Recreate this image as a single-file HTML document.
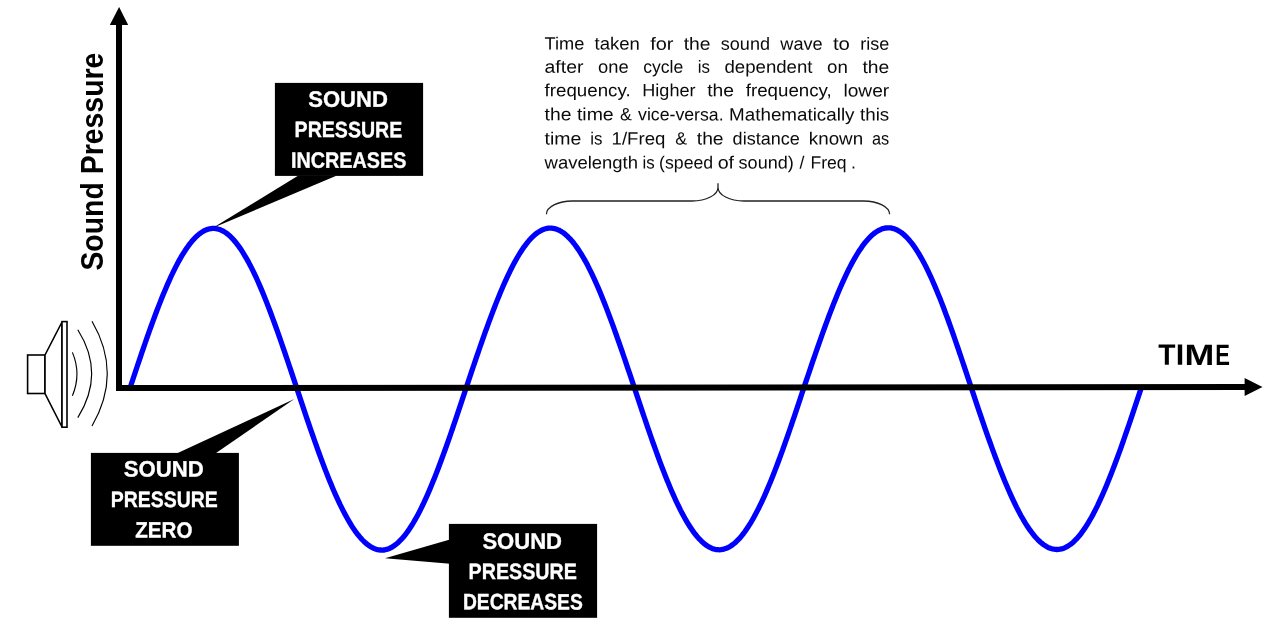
<!DOCTYPE html>
<html lang="en"><head><meta charset="utf-8"><title>Sound wave - pressure vs time</title>
<style>
html,body{margin:0;padding:0;background:#fff;}
body{width:1268px;height:623px;overflow:hidden;}
svg{display:block;}
text{font-family:"Liberation Sans",sans-serif;}
.b{font-weight:bold;}
.w{fill:#fff;font-weight:bold;font-size:22.2px;stroke:#fff;stroke-width:0.35px;}
.p{fill:#0a0a0a;font-size:17.7px;}
</style></head><body>
<svg width="1268" height="623" viewBox="0 0 1268 623">
<rect width="1268" height="623" fill="#fff"/>

<polyline points="130.0,388.0 131.5,383.5 133.0,379.0 134.5,374.5 136.0,370.0 137.5,365.5 139.0,361.1 140.5,356.6 142.0,352.2 143.5,347.9 145.0,343.5 146.5,339.2 148.0,334.9 149.5,330.7 151.0,326.5 152.5,322.4 154.0,318.3 155.5,314.3 157.0,310.3 158.5,306.4 160.0,302.6 161.5,298.8 163.0,295.1 164.5,291.5 166.0,287.9 167.5,284.4 169.0,281.1 170.5,277.7 172.0,274.5 173.5,271.4 175.0,268.4 176.5,265.4 178.0,262.6 179.5,259.9 181.0,257.2 182.5,254.7 184.0,252.3 185.5,250.0 187.0,247.8 188.5,245.7 190.0,243.7 191.5,241.8 193.0,240.1 194.5,238.4 196.0,236.9 197.5,235.5 199.0,234.3 200.5,233.1 202.0,232.1 203.5,231.2 205.0,230.4 206.5,229.8 208.0,229.2 209.5,228.8 211.0,228.6 212.5,228.4 214.0,228.4 215.5,228.5 217.0,228.8 218.5,229.2 220.0,229.6 221.5,230.3 223.0,231.0 224.5,231.9 226.0,232.9 227.5,234.0 229.0,235.3 230.5,236.6 232.0,238.1 233.5,239.7 235.0,241.5 236.5,243.3 238.0,245.3 239.5,247.4 241.0,249.6 242.5,251.9 244.0,254.3 245.5,256.8 247.0,259.4 248.5,262.1 250.0,265.0 251.5,267.9 253.0,270.9 254.5,274.0 256.0,277.2 257.5,280.5 259.0,283.9 260.5,287.4 262.0,290.9 263.5,294.6 265.0,298.3 266.5,302.0 268.0,305.9 269.5,309.8 271.0,313.7 272.5,317.8 274.0,321.9 275.5,326.0 277.0,330.2 278.5,334.4 280.0,338.7 281.5,343.0 283.0,347.3 284.5,351.7 286.0,356.1 287.5,360.5 289.0,365.0 290.5,369.4 292.0,373.9 293.5,378.3 295.0,382.8 296.5,387.3 298.0,391.8 299.5,396.3 301.0,400.9 302.5,405.4 304.0,409.9 305.5,414.3 307.0,418.8 308.5,423.2 310.0,427.6 311.5,431.9 313.0,436.2 314.5,440.5 316.0,444.7 317.5,448.9 319.0,453.0 320.5,457.1 322.0,461.2 323.5,465.1 325.0,469.1 326.5,472.9 328.0,476.7 329.5,480.4 331.0,484.1 332.5,487.7 334.0,491.2 335.5,494.6 337.0,497.9 338.5,501.2 340.0,504.4 341.5,507.4 343.0,510.4 344.5,513.3 346.0,516.1 347.5,518.8 349.0,521.4 350.5,523.9 352.0,526.3 353.5,528.6 355.0,530.8 356.5,532.8 358.0,534.8 359.5,536.6 361.0,538.4 362.5,540.0 364.0,541.5 365.5,542.9 367.0,544.1 368.5,545.3 370.0,546.3 371.5,547.2 373.0,548.0 374.5,548.6 376.0,549.2 377.5,549.6 379.0,549.9 380.5,550.0 382.0,550.1 383.5,550.0 385.0,549.8 386.5,549.4 388.0,548.9 389.5,548.4 391.0,547.6 392.5,546.8 394.0,545.8 395.5,544.7 397.0,543.5 398.5,542.2 400.0,540.7 401.5,539.2 403.0,537.5 404.5,535.7 406.0,533.8 407.5,531.7 409.0,529.6 410.5,527.3 412.0,525.0 413.5,522.5 415.0,519.9 416.5,517.2 418.0,514.5 419.5,511.6 421.0,508.6 422.5,505.5 424.0,502.4 425.5,499.1 427.0,495.8 428.5,492.4 430.0,488.9 431.5,485.3 433.0,481.6 434.5,477.9 436.0,474.1 437.5,470.3 439.0,466.3 440.5,462.3 442.0,458.3 443.5,454.2 445.0,450.0 446.5,445.8 448.0,441.6 449.5,437.3 451.0,433.0 452.5,428.6 454.0,424.2 455.5,419.8 457.0,415.3 458.5,410.8 460.0,406.3 461.5,401.8 463.0,397.3 464.5,392.8 466.0,388.2 467.5,383.8 469.0,379.3 470.5,374.9 472.0,370.4 473.5,366.0 475.0,361.6 476.5,357.2 478.0,352.8 479.5,348.5 481.0,344.1 482.5,339.9 484.0,335.6 485.5,331.4 487.0,327.3 488.5,323.1 490.0,319.1 491.5,315.1 493.0,311.1 494.5,307.2 496.0,303.4 497.5,299.6 499.0,295.9 500.5,292.3 502.0,288.8 503.5,285.3 505.0,281.9 506.5,278.6 508.0,275.4 509.5,272.3 511.0,269.2 512.5,266.3 514.0,263.4 515.5,260.7 517.0,258.0 518.5,255.5 520.0,253.0 521.5,250.7 523.0,248.4 524.5,246.3 526.0,244.3 527.5,242.4 529.0,240.6 530.5,238.9 532.0,237.4 533.5,235.9 535.0,234.6 536.5,233.4 538.0,232.3 539.5,231.4 541.0,230.5 542.5,229.8 544.0,229.2 545.5,228.8 547.0,228.4 548.5,228.2 550.0,228.1 551.5,228.2 553.0,228.3 554.5,228.6 556.0,229.0 557.5,229.6 559.0,230.2 560.5,231.0 562.0,231.9 563.5,232.9 565.0,234.1 566.5,235.4 568.0,236.8 569.5,238.3 571.0,239.9 572.5,241.6 574.0,243.5 575.5,245.5 577.0,247.6 578.5,249.8 580.0,252.1 581.5,254.5 583.0,257.0 584.5,259.6 586.0,262.3 587.5,265.1 589.0,268.1 590.5,271.1 592.0,274.2 593.5,277.4 595.0,280.6 596.5,284.0 598.0,287.4 599.5,290.9 601.0,294.5 602.5,298.2 604.0,302.0 605.5,305.8 607.0,309.6 608.5,313.6 610.0,317.6 611.5,321.6 613.0,325.7 614.5,329.8 616.0,334.0 617.5,338.3 619.0,342.5 620.5,346.8 622.0,351.2 623.5,355.5 625.0,359.9 626.5,364.3 628.0,368.8 629.5,373.2 631.0,377.6 632.5,382.1 634.0,386.5 635.5,391.1 637.0,395.6 638.5,400.1 640.0,404.6 641.5,409.1 643.0,413.6 644.5,418.0 646.0,422.4 647.5,426.8 649.0,431.2 650.5,435.5 652.0,439.8 653.5,444.0 655.0,448.2 656.5,452.4 658.0,456.5 659.5,460.6 661.0,464.6 662.5,468.5 664.0,472.4 665.5,476.2 667.0,479.9 668.5,483.6 670.0,487.2 671.5,490.7 673.0,494.1 674.5,497.5 676.0,500.8 677.5,504.0 679.0,507.0 680.5,510.1 682.0,513.0 683.5,515.8 685.0,518.5 686.5,521.1 688.0,523.6 689.5,526.0 691.0,528.3 692.5,530.5 694.0,532.6 695.5,534.5 697.0,536.4 698.5,538.1 700.0,539.7 701.5,541.2 703.0,542.6 704.5,543.9 706.0,545.0 707.5,546.0 709.0,546.9 710.5,547.7 712.0,548.4 713.5,548.9 715.0,549.3 716.5,549.6 718.0,549.7 719.5,549.8 721.0,549.7 722.5,549.4 724.0,549.1 725.5,548.6 727.0,548.0 728.5,547.3 730.0,546.5 731.5,545.5 733.0,544.4 734.5,543.2 736.0,541.9 737.5,540.4 739.0,538.9 740.5,537.2 742.0,535.4 743.5,533.5 745.0,531.5 746.5,529.3 748.0,527.1 749.5,524.7 751.0,522.3 752.5,519.7 754.0,517.1 755.5,514.3 757.0,511.4 758.5,508.5 760.0,505.4 761.5,502.3 763.0,499.1 764.5,495.8 766.0,492.4 767.5,488.9 769.0,485.3 770.5,481.7 772.0,478.0 773.5,474.2 775.0,470.4 776.5,466.5 778.0,462.5 779.5,458.5 781.0,454.4 782.5,450.3 784.0,446.1 785.5,441.9 787.0,437.6 788.5,433.3 790.0,429.0 791.5,424.6 793.0,420.2 794.5,415.8 796.0,411.3 797.5,406.8 799.0,402.4 800.5,397.9 802.0,393.3 803.5,388.8 805.0,384.4 806.5,379.9 808.0,375.5 809.5,371.1 811.0,366.6 812.5,362.2 814.0,357.9 815.5,353.5 817.0,349.2 818.5,344.9 820.0,340.6 821.5,336.3 823.0,332.1 824.5,328.0 826.0,323.9 827.5,319.8 829.0,315.8 830.5,311.9 832.0,308.0 833.5,304.1 835.0,300.4 836.5,296.7 838.0,293.0 839.5,289.5 841.0,286.0 842.5,282.6 844.0,279.3 845.5,276.1 847.0,272.9 848.5,269.8 850.0,266.9 851.5,264.0 853.0,261.2 854.5,258.6 856.0,256.0 857.5,253.5 859.0,251.1 860.5,248.9 862.0,246.7 863.5,244.7 865.0,242.7 866.5,240.9 868.0,239.2 869.5,237.6 871.0,236.1 872.5,234.8 874.0,233.5 875.5,232.4 877.0,231.4 878.5,230.5 880.0,229.8 881.5,229.1 883.0,228.6 884.5,228.2 886.0,228.0 887.5,227.8 889.0,227.8 890.5,227.9 892.0,228.2 893.5,228.6 895.0,229.1 896.5,229.7 898.0,230.5 899.5,231.4 901.0,232.4 902.5,233.5 904.0,234.8 905.5,236.2 907.0,237.7 908.5,239.3 910.0,241.1 911.5,242.9 913.0,244.9 914.5,247.0 916.0,249.3 917.5,251.6 919.0,254.0 920.5,256.6 922.0,259.3 923.5,262.0 925.0,264.9 926.5,267.8 928.0,270.9 929.5,274.1 931.0,277.3 932.5,280.7 934.0,284.1 935.5,287.6 937.0,291.2 938.5,294.9 940.0,298.6 941.5,302.4 943.0,306.3 944.5,310.2 946.0,314.3 947.5,318.3 949.0,322.5 950.5,326.6 952.0,330.9 953.5,335.2 955.0,339.5 956.5,343.8 958.0,348.2 959.5,352.6 961.0,357.0 962.5,361.5 964.0,365.9 965.5,370.4 967.0,374.9 968.5,379.3 970.0,383.8 971.5,388.3 973.0,392.8 974.5,397.3 976.0,401.8 977.5,406.3 979.0,410.8 980.5,415.2 982.0,419.6 983.5,423.9 985.0,428.3 986.5,432.6 988.0,436.8 989.5,441.0 991.0,445.2 992.5,449.3 994.0,453.4 995.5,457.5 997.0,461.4 998.5,465.4 1000.0,469.2 1001.5,473.0 1003.0,476.8 1004.5,480.4 1006.0,484.0 1007.5,487.6 1009.0,491.0 1010.5,494.4 1012.0,497.7 1013.5,500.9 1015.0,504.0 1016.5,507.1 1018.0,510.0 1019.5,512.9 1021.0,515.7 1022.5,518.3 1024.0,520.9 1025.5,523.4 1027.0,525.7 1028.5,528.0 1030.0,530.2 1031.5,532.2 1033.0,534.1 1034.5,536.0 1036.0,537.7 1037.5,539.3 1039.0,540.8 1040.5,542.2 1042.0,543.4 1043.5,544.6 1045.0,545.6 1046.5,546.5 1048.0,547.3 1049.5,548.0 1051.0,548.5 1052.5,548.9 1054.0,549.2 1055.5,549.4 1057.0,549.5 1058.5,549.4 1060.0,549.2 1061.5,548.9 1063.0,548.4 1064.5,547.9 1066.0,547.2 1067.5,546.4 1069.0,545.4 1070.5,544.4 1072.0,543.2 1073.5,541.9 1075.0,540.4 1076.5,538.9 1078.0,537.2 1079.5,535.5 1081.0,533.6 1082.5,531.5 1084.0,529.4 1085.5,527.2 1087.0,524.8 1088.5,522.4 1090.0,519.8 1091.5,517.2 1093.0,514.4 1094.5,511.6 1096.0,508.6 1097.5,505.6 1099.0,502.4 1100.5,499.2 1102.0,495.9 1103.5,492.5 1105.0,489.0 1106.5,485.4 1108.0,481.8 1109.5,478.1 1111.0,474.3 1112.5,470.4 1114.0,466.5 1115.5,462.5 1117.0,458.5 1118.5,454.4 1120.0,450.3 1121.5,446.1 1123.0,441.8 1124.5,437.5 1126.0,433.2 1127.5,428.9 1129.0,424.5 1130.5,420.1 1132.0,415.6 1133.5,411.1 1135.0,406.7 1136.5,402.2 1138.0,397.6 1139.5,393.1 1141.0,388.6" fill="none" stroke="#0000ff" stroke-width="5.3" stroke-linejoin="round" stroke-linecap="butt"/>

<g fill="#000" stroke="none">
<polygon points="116,24 122,24 122,391 116,391"/>
<polygon points="119.1,7 109.8,25 128.2,25"/>
<polygon points="116,385 1245,384 1245,390 116,391"/>
<polygon points="1262.5,387.1 1244.6,378 1244.6,396"/>
</g>

<g fill="none" stroke="#000" stroke-width="1.6" stroke-linejoin="miter">
<rect x="27.6" y="355" width="17.4" height="38.5" fill="#fff"/>
<polygon points="45,355 62,322 62,427 45,393.5" fill="#fff"/>
<rect x="62" y="321.6" width="5" height="105.6" fill="#fff"/>
</g>
<g fill="none" stroke="#000" stroke-width="1.15">
<path d="M72.4,352.4 Q81.5,374 72.4,395.8"/>
<path d="M77.8,329.8 Q105.5,373.7 77.8,417.6"/>
<path d="M92,321.3 Q122.5,373.6 92,426"/>
</g>

<g><rect x="274.9" y="82.9" width="148.2" height="93.0" fill="#000"/>
<polygon points="298.4,175.5 336.9,175.5 212.6,228.1" fill="#000"/>
<text class="w" transform="rotate(0.05 309 107)" x="308.2" y="106.7" textLength="79.7" lengthAdjust="spacingAndGlyphs">SOUND</text>
<text class="w" transform="rotate(0.05 295 137)" x="294.6" y="137.1" textLength="107.7" lengthAdjust="spacingAndGlyphs">PRESSURE</text>
<text class="w" transform="rotate(0.05 292 168)" x="291.0" y="167.7" textLength="115.4" lengthAdjust="spacingAndGlyphs">INCREASES</text>
</g>

<g><rect x="90.9" y="452.9" width="148.0" height="92.9" fill="#000"/>
<polygon points="175.6,454 214.6,454 294.3,399" fill="#000"/>
<text class="w" transform="rotate(0.05 125 476)" x="123.8" y="476.5" textLength="80.0" lengthAdjust="spacingAndGlyphs">SOUND</text>
<text class="w" transform="rotate(0.05 112 507)" x="110.7" y="507.0" textLength="107.1" lengthAdjust="spacingAndGlyphs">PRESSURE</text>
<text class="w" transform="rotate(0.05 136 538)" x="135.3" y="537.6" textLength="57.1" lengthAdjust="spacingAndGlyphs">ZERO</text>
</g>

<g><rect x="448.9" y="523.9" width="148.2" height="93.9" fill="#000"/>
<polygon points="450,539.6 450,563.8 385,558.2" fill="#000"/>
<text class="w" transform="rotate(0.05 483 549)" x="482.4" y="548.7" textLength="79.6" lengthAdjust="spacingAndGlyphs">SOUND</text>
<text class="w" transform="rotate(0.05 469 579)" x="468.6" y="579.0" textLength="108.2" lengthAdjust="spacingAndGlyphs">PRESSURE</text>
<text class="w" transform="rotate(0.05 464 609)" x="462.9" y="609.3" textLength="119.9" lengthAdjust="spacingAndGlyphs">DECREASES</text>
</g>

<text class="b" aria-label="TIME" transform="rotate(0.05 1194 355)" y="364.9" font-size="29.6" fill="#000"><tspan x="1158.3" textLength="17.2" lengthAdjust="spacingAndGlyphs">T</tspan><tspan x="1175.7" textLength="8.5" lengthAdjust="spacingAndGlyphs">I</tspan><tspan x="1184.4" textLength="29.8" lengthAdjust="spacingAndGlyphs">M</tspan><tspan x="1215.3" textLength="14.7" lengthAdjust="spacingAndGlyphs">E</tspan></text>
<text class="b" transform="translate(102.7,270.6) rotate(-90)" x="0" y="0" font-size="30.8" textLength="218" lengthAdjust="spacingAndGlyphs" fill="#000">Sound Pressure</text>

<path d="M546.4,214.3 A26,13.3 0 0 1 572.4,201 L692,201 A26,13.6 0 0 0 718,187.4 L718,183.3 L718,187.4 A26,13.6 0 0 0 744,201 L863.6,201 A26,13.3 0 0 1 889.6,214.3" fill="none" stroke="#222" stroke-width="1.3"/>

<text class="p" transform="rotate(0.04 716 50)" y="49.7" xml:space="preserve"><tspan x="544.6" textLength="39.8" lengthAdjust="spacingAndGlyphs">Time</tspan> <tspan x="594.6" textLength="45.3" lengthAdjust="spacingAndGlyphs">taken</tspan> <tspan x="650.2" textLength="23.3" lengthAdjust="spacingAndGlyphs">for</tspan> <tspan x="683.7" textLength="26.8" lengthAdjust="spacingAndGlyphs">the</tspan> <tspan x="720.8" textLength="49.2" lengthAdjust="spacingAndGlyphs">sound</tspan> <tspan x="780.3" textLength="42.3" lengthAdjust="spacingAndGlyphs">wave</tspan> <tspan x="832.9" textLength="17.0" lengthAdjust="spacingAndGlyphs">to</tspan> <tspan x="860.2" textLength="29.0" lengthAdjust="spacingAndGlyphs">rise</tspan></text>
<text class="p" transform="rotate(0.04 716 73)" y="72.8" xml:space="preserve"><tspan x="544.6" textLength="38.8" lengthAdjust="spacingAndGlyphs">after</tspan> <tspan x="598.0" textLength="30.6" lengthAdjust="spacingAndGlyphs">one</tspan> <tspan x="643.2" textLength="40.0" lengthAdjust="spacingAndGlyphs">cycle</tspan> <tspan x="697.7" textLength="12.2" lengthAdjust="spacingAndGlyphs">is</tspan> <tspan x="724.5" textLength="88.0" lengthAdjust="spacingAndGlyphs">dependent</tspan> <tspan x="827.0" textLength="20.8" lengthAdjust="spacingAndGlyphs">on</tspan> <tspan x="862.4" textLength="26.8" lengthAdjust="spacingAndGlyphs">the</tspan></text>
<text class="p" transform="rotate(0.04 716 96)" y="96.3" xml:space="preserve"><tspan x="544.6" textLength="86.0" lengthAdjust="spacingAndGlyphs">frequency.</tspan> <tspan x="642.3" textLength="53.2" lengthAdjust="spacingAndGlyphs">Higher</tspan> <tspan x="707.2" textLength="26.8" lengthAdjust="spacingAndGlyphs">the</tspan> <tspan x="745.8" textLength="85.9" lengthAdjust="spacingAndGlyphs">frequency,</tspan> <tspan x="843.4" textLength="45.8" lengthAdjust="spacingAndGlyphs">lower</tspan></text>
<text class="p" transform="rotate(0.04 716 120)" y="120.4" xml:space="preserve"><tspan x="544.6" textLength="26.8" lengthAdjust="spacingAndGlyphs">the</tspan> <tspan x="576.9" textLength="36.8" lengthAdjust="spacingAndGlyphs">time</tspan> <tspan x="620.0">&amp;</tspan> <tspan x="638.1" textLength="85.5" lengthAdjust="spacingAndGlyphs">vice-versa.</tspan> <tspan x="729.1" textLength="125.4" lengthAdjust="spacingAndGlyphs">Mathematically</tspan> <tspan x="860.0" textLength="29.2" lengthAdjust="spacingAndGlyphs">this</tspan></text>
<text class="p" transform="rotate(0.04 716 144)" y="144.5" xml:space="preserve"><tspan x="544.6" textLength="36.8" lengthAdjust="spacingAndGlyphs">time</tspan> <tspan x="590.3" textLength="12.2" lengthAdjust="spacingAndGlyphs">is</tspan> <tspan x="611.6" textLength="53.8" lengthAdjust="spacingAndGlyphs">1/Freq</tspan> <tspan x="675.2">&amp;</tspan> <tspan x="696.8" textLength="26.8" lengthAdjust="spacingAndGlyphs">the</tspan> <tspan x="732.6" textLength="67.2" lengthAdjust="spacingAndGlyphs">distance</tspan> <tspan x="808.8" textLength="54.3" lengthAdjust="spacingAndGlyphs">known</tspan> <tspan x="872.0" textLength="17.2" lengthAdjust="spacingAndGlyphs">as</tspan></text>
<text class="p" transform="rotate(0.04 716 168)" y="168.5" xml:space="preserve"><tspan x="544.6" textLength="93.4" lengthAdjust="spacingAndGlyphs">wavelength</tspan> <tspan x="642.4" textLength="12.2" lengthAdjust="spacingAndGlyphs">is</tspan> <tspan x="659.1" textLength="54.1" lengthAdjust="spacingAndGlyphs">(speed</tspan> <tspan x="717.7" textLength="16.4" lengthAdjust="spacingAndGlyphs">of</tspan> <tspan x="738.6" textLength="55.2" lengthAdjust="spacingAndGlyphs">sound)</tspan> <tspan x="799.6">/</tspan> <tspan x="810.4" textLength="36.2" lengthAdjust="spacingAndGlyphs">Freq</tspan> <tspan x="851.0">.</tspan></text>

</svg>
</body></html>
